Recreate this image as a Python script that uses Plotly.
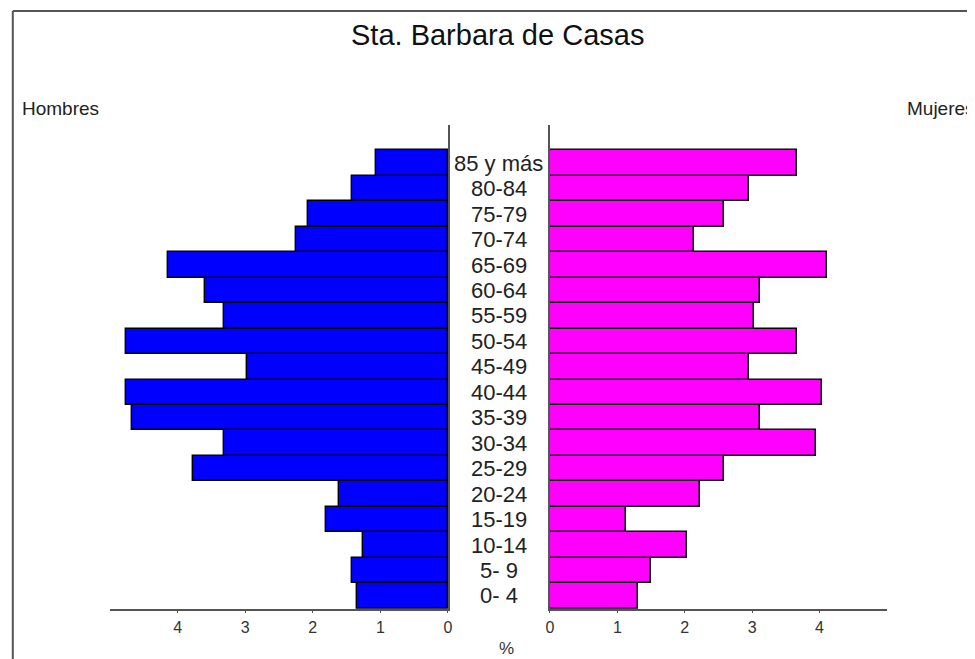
import plotly.graph_objects as go

# Datos de la pirámide (porcentaje de población por grupo de edad)
EDADES = ["0- 4", "5- 9", "10-14", "15-19", "20-24", "25-29", "30-34", "35-39", "40-44",
          "45-49", "50-54", "55-59", "60-64", "65-69", "70-74", "75-79", "80-84", "85 y más"]
HOMBRES = [1.34, 1.42, 1.25, 1.80, 1.61, 3.77, 3.32, 4.68, 4.77,
           2.97, 4.77, 3.32, 3.60, 4.14, 2.24, 2.07, 1.42, 1.07]
MUJERES = [1.31, 1.50, 2.04, 1.13, 2.22, 2.58, 3.95, 3.12, 4.03,
           2.95, 3.67, 3.03, 3.12, 4.11, 2.13, 2.58, 2.95, 3.67]
TICKS = [0, 1, 2, 3, 4]

W, H = 975, 659
OFF = 8  # margen del body de la página
FONT = "Liberation Sans, Arial, sans-serif"
AXIS_COLOR = "#555555"


def px_x(v):
    return (v - OFF) / W


def px_y(v):
    return 1 - (v - OFF) / H


fig = go.Figure()
fig.add_trace(go.Bar(
    y=EDADES, x=HOMBRES, orientation="h", xaxis="x", yaxis="y",
    marker=dict(color="#0000ff", line=dict(color="black", width=1.5)),
    showlegend=False, hoverinfo="x+y",
))
fig.add_trace(go.Bar(
    y=EDADES, x=MUJERES, orientation="h", xaxis="x2", yaxis="y2",
    marker=dict(color="#ff00ff", line=dict(color="black", width=1.5)),
    showlegend=False, hoverinfo="x+y",
))

y_dom = [px_y(608.7), px_y(125)]
common_x = dict(
    showline=True, linecolor=AXIS_COLOR, linewidth=1.5, showgrid=False, zeroline=False,
    tickmode="array", tickvals=TICKS, ticks="outside", ticklen=3, tickcolor=AXIS_COLOR,
    tickfont=dict(family=FONT, size=16, color="#333333"),
)
common_y = dict(
    type="category", range=[-0.5, 18.5], showline=True, linecolor=AXIS_COLOR, linewidth=1.5,
    showgrid=False, zeroline=False, showticklabels=False, ticks="", domain=y_dom,
)

fig.update_layout(
    width=W, height=H,
    margin=dict(l=0, r=0, t=0, b=0),
    plot_bgcolor="white", paper_bgcolor="white",
    bargap=0,
    xaxis=dict(domain=[px_x(107), px_x(448)], range=[5, 0], anchor="y", **common_x),
    xaxis2=dict(domain=[px_x(551), px_x(891)], range=[0, 5], anchor="y2", **common_x),
    yaxis=dict(anchor="x", side="right", **common_y),
    yaxis2=dict(anchor="x2", side="left", **common_y),
)

# Etiquetas de edad en el centro
for edad in EDADES:
    fig.add_annotation(
        x=px_x(499.5), xref="paper", y=edad, yref="y", text=edad, showarrow=False,
        xanchor="center", yanchor="middle",
        font=dict(family=FONT, size=22, color="#222222"),
    )


def texto(x, y, t, size, anchor="center", color="#222222"):
    fig.add_annotation(x=px_x(x), y=px_y(y), xref="paper", yref="paper", text=t, showarrow=False,
                       xanchor=anchor, yanchor="middle", font=dict(family=FONT, size=size, color=color))


texto(498.5, 35, "Sta. Barbara de Casas", 29, color="#111111")
texto(16, 108, "Hombres", 19, anchor="left")
texto(909, 108, "Mujeres", 19, anchor="left")
texto(507, 648, "%", 17, color="#333333")

# Marco parcial (borde superior e izquierdo)
fig.add_shape(type="line", xref="paper", yref="paper", x0=px_x(8.8), x1=1, y0=px_y(11), y1=px_y(11),
              line=dict(color=AXIS_COLOR, width=2))
fig.add_shape(type="line", xref="paper", yref="paper", x0=px_x(8.8), x1=px_x(8.8), y0=0, y1=px_y(11),
              line=dict(color=AXIS_COLOR, width=2))

fig.write_html("out.html")
